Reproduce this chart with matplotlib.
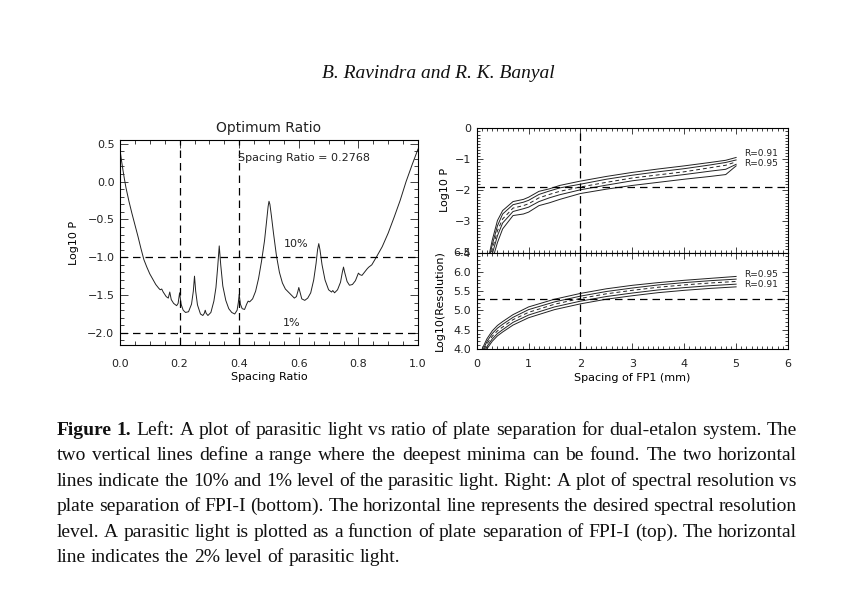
import matplotlib
matplotlib.use("Agg")
import matplotlib.pyplot as plt
from matplotlib.ticker import MultipleLocator

# left panel: parasitic light vs spacing ratio
ratio = [0.000, 0.005, 0.010, 0.015, 0.020, 0.030, 0.040, 0.050, 0.060, 0.070,
         0.080, 0.090, 0.100, 0.110, 0.120, 0.130, 0.135, 0.140, 0.145, 0.155,
         0.162, 0.167, 0.172, 0.180, 0.190, 0.195, 0.200, 0.205, 0.212, 0.220,
         0.230, 0.240, 0.246, 0.250, 0.254, 0.260, 0.270, 0.278, 0.283, 0.286,
         0.289, 0.295, 0.305, 0.315, 0.322, 0.328, 0.333, 0.338, 0.345, 0.355,
         0.365, 0.375, 0.385, 0.393, 0.397, 0.400, 0.404, 0.410, 0.418, 0.425,
         0.430, 0.435, 0.445, 0.455, 0.465, 0.475, 0.485, 0.492, 0.497, 0.500,
         0.503, 0.508, 0.515, 0.525, 0.535, 0.545, 0.555, 0.565, 0.575, 0.585,
         0.592, 0.597, 0.600, 0.604, 0.610, 0.620, 0.630, 0.640, 0.650, 0.658,
         0.663, 0.667, 0.671, 0.678, 0.688, 0.700, 0.710, 0.714, 0.720, 0.730,
         0.740, 0.746, 0.750, 0.754, 0.762, 0.770, 0.780, 0.790, 0.797, 0.800,
         0.805, 0.812, 0.820, 0.830, 0.835, 0.845, 0.860, 0.880, 0.900, 0.920,
         0.940, 0.960, 0.980, 1.000]
log_p = [0.42, 0.28, 0.15, 0.03, -0.08, -0.26, -0.42, -0.57, -0.72, -0.88,
         -1.03, -1.13, -1.22, -1.29, -1.36, -1.41, -1.43, -1.42, -1.46, -1.52,
         -1.54, -1.46, -1.56, -1.61, -1.64, -1.61, -1.47, -1.62, -1.70, -1.73,
         -1.72, -1.62, -1.45, -1.25, -1.45, -1.63, -1.75, -1.77, -1.74, -1.70,
         -1.74, -1.77, -1.73, -1.58, -1.40, -1.12, -0.85, -1.10, -1.38, -1.57,
         -1.68, -1.73, -1.75, -1.70, -1.60, -1.49, -1.62, -1.68, -1.69, -1.62,
         -1.58, -1.59, -1.55, -1.45, -1.28, -1.05, -0.78, -0.52, -0.33, -0.26,
         -0.30, -0.45, -0.68, -0.98, -1.20, -1.34, -1.42, -1.46, -1.50, -1.54,
         -1.52, -1.45, -1.40, -1.46, -1.55, -1.57, -1.54, -1.47, -1.30, -1.08,
         -0.90, -0.82, -0.90, -1.10, -1.30, -1.43, -1.46, -1.44, -1.47, -1.43,
         -1.33, -1.20, -1.13, -1.20, -1.32, -1.37, -1.36, -1.31, -1.24, -1.21,
         -1.23, -1.24, -1.20, -1.15, -1.13, -1.10, -1.00, -0.86, -0.68, -0.47,
         -0.25, 0.00, 0.22, 0.43]

# right top: parasitic light vs FP1 spacing
sep_top = [0.25, 0.3, 0.4, 0.5, 0.7, 0.9, 1.0, 1.2, 1.4, 1.6, 2.0, 2.5, 3.0, 3.5, 4.0, 4.5, 4.8, 5.0]
p1 = [-4.0, -3.6, -2.97, -2.65, -2.36, -2.29, -2.22, -2.03, -1.95, -1.84, -1.70, -1.55, -1.42, -1.31, -1.21, -1.10, -1.03, -0.94]
p2 = [-4.1, -3.75, -3.14, -2.76, -2.46, -2.38, -2.32, -2.13, -2.02, -1.92, -1.80, -1.64, -1.51, -1.40, -1.30, -1.18, -1.10, -1.02]
p3 = [-4.2, -3.9, -3.30, -2.92, -2.57, -2.49, -2.43, -2.24, -2.13, -2.03, -1.89, -1.74, -1.60, -1.50, -1.40, -1.27, -1.19, -1.08]
p4 = [-4.35, -4.05, -3.46, -3.05, -2.68, -2.59, -2.54, -2.36, -2.24, -2.14, -1.98, -1.83, -1.69, -1.59, -1.49, -1.38, -1.32, -1.16]
p5 = [-4.5, -4.25, -3.68, -3.24, -2.81, -2.76, -2.70, -2.49, -2.40, -2.29, -2.10, -1.96, -1.84, -1.74, -1.64, -1.55, -1.49, -1.21]

# right bottom: resolution vs FP1 spacing
sep_bot = [0.1, 0.15, 0.2, 0.3, 0.4, 0.5, 0.7, 1.0, 1.5, 2.0, 2.5, 3.0, 3.5, 4.0, 4.5, 5.0]
r1 = [3.98, 4.13, 4.27, 4.47, 4.61, 4.71, 4.89, 5.09, 5.29, 5.44, 5.56, 5.65, 5.72, 5.78, 5.83, 5.88]
r2 = [3.90, 4.06, 4.20, 4.40, 4.54, 4.64, 4.82, 5.02, 5.22, 5.37, 5.49, 5.58, 5.66, 5.72, 5.77, 5.81]
r3 = [3.82, 4.00, 4.14, 4.33, 4.47, 4.57, 4.76, 4.95, 5.16, 5.31, 5.43, 5.52, 5.60, 5.66, 5.71, 5.75]
r4 = [3.74, 3.93, 4.07, 4.26, 4.40, 4.50, 4.69, 4.88, 5.09, 5.24, 5.36, 5.45, 5.53, 5.59, 5.64, 5.68]
r5 = [3.66, 3.87, 4.01, 4.20, 4.34, 4.44, 4.62, 4.81, 5.02, 5.17, 5.29, 5.38, 5.46, 5.52, 5.57, 5.61]

header = "B. Ravindra and R. K. Banyal"
caption_lines = [
    "Figure 1. Left: A plot of parasitic light vs ratio of plate separation for dual-etalon system. The",
    "two vertical lines define a range where the deepest minima can be found.  The two horizontal",
    "lines indicate the 10% and 1% level of the parasitic light. Right: A plot of spectral resolution vs",
    "plate separation of FPI-I (bottom). The horizontal line represents the desired spectral resolution",
    "level. A parasitic light is plotted as a function of plate separation of FPI-I (top). The horizontal",
    "line indicates the 2% level of parasitic light.",
]

W, H = 842, 596
plt.rcParams['font.family'] = ['DejaVu Sans']
plt.rcParams['font.size'] = 8
plt.rcParams['axes.linewidth'] = 0.8
plt.rcParams['text.color'] = '#222222'
plt.rcParams['xtick.color'] = '#222222'
plt.rcParams['ytick.color'] = '#222222'

fig = plt.figure(figsize=(W / 100, H / 100), dpi=100)

LW = 0.7
DASH = (0, (6, 4))


def fig_rect(left, top, right, bottom):
    return [left / W, 1 - bottom / H, (right - left) / W, (bottom - top) / H]


def style_axis(ax, xminor, yminor, major=4.5, minor=2.2):
    ax.xaxis.set_minor_locator(MultipleLocator(xminor))
    ax.yaxis.set_minor_locator(MultipleLocator(yminor))
    ax.tick_params(which='both', direction='in', top=True, right=True, width=0.6)
    ax.tick_params(which='major', length=major, pad=4)
    ax.tick_params(which='minor', length=minor)


# ---- left panel
ax = fig.add_axes(fig_rect(120, 140, 418, 345))
ax.plot(ratio, log_p, color='#222222', lw=LW)
ax.axvline(0.2, color='k', lw=0.9, linestyle=DASH)
ax.axvline(0.4, color='k', lw=0.9, linestyle=DASH)
ax.axhline(-1.0, color='k', lw=0.9, linestyle=DASH)
ax.axhline(-2.0, color='k', lw=0.9, linestyle=DASH)
ax.set_xlim(0, 1)
ax.set_ylim(-2.16, 0.55)
ax.xaxis.set_major_locator(MultipleLocator(0.2))
ax.yaxis.set_major_locator(MultipleLocator(0.5))
style_axis(ax, 0.05, 0.1, major=6, minor=3)
ax.tick_params(axis='x', which='major', pad=10)
ax.set_xlabel('Spacing Ratio', labelpad=2)
ax.set_ylabel('Log10 P', labelpad=6)
ax.set_title('Optimum Ratio', fontsize=10, pad=6)
ax.text(0.397, 0.31, 'Spacing Ratio = 0.2768', ha='left', va='center')
ax.text(0.59, -0.82, '10%', ha='center', va='center')
ax.text(0.577, -1.87, '1%', ha='center', va='center')

# ---- right top panel
ax1 = fig.add_axes(fig_rect(476.7, 128.3, 788, 252.5))
for ys, ls in zip([p1, p2, p3, p4, p5], ['-', '-', (0, (4, 3)), '-', '-']):
    ax1.plot(sep_top, ys, color='#222222', lw=LW, linestyle=ls)
ax1.axvline(2.0, color='k', lw=0.9, linestyle=DASH)
ax1.axhline(-1.9, color='k', lw=0.9, linestyle=DASH)
ax1.set_xlim(0, 6)
ax1.set_ylim(-4, 0)
ax1.xaxis.set_major_locator(MultipleLocator(1))
ax1.yaxis.set_major_locator(MultipleLocator(1))
style_axis(ax1, 0.1, 0.1)
ax1.tick_params(labelbottom=False)
ax1.set_ylabel('Log10 P', labelpad=3)
ax1.text(5.15, -0.8, 'R=0.91', fontsize=6.5, ha='left', va='center')
ax1.text(5.15, -1.12, 'R=0.95', fontsize=6.5, ha='left', va='center')

# ---- right bottom panel
ax2 = fig.add_axes(fig_rect(476.7, 252.5, 788, 349))
for ys, ls in zip([r1, r2, r3, r4, r5], ['-', '-', (0, (4, 3)), '-', '-']):
    ax2.plot(sep_bot, ys, color='#222222', lw=LW, linestyle=ls)
ax2.axvline(2.0, color='k', lw=0.9, linestyle=DASH)
ax2.axhline(5.3, color='k', lw=0.9, linestyle=DASH)
ax2.set_xlim(0, 6)
ax2.set_ylim(4.0, 6.5)
ax2.xaxis.set_major_locator(MultipleLocator(1))
ax2.yaxis.set_major_locator(MultipleLocator(0.5))
style_axis(ax2, 0.1, 0.1)
ax2.tick_params(axis='x', which='major', pad=7)
ax2.set_xlabel('Spacing of FP1 (mm)', labelpad=3)
ax2.set_ylabel('Log10(Resolution)', labelpad=6)
ax2.text(5.15, 5.94, 'R=0.95', fontsize=6.5, ha='left', va='center')
ax2.text(5.15, 5.68, 'R=0.91', fontsize=6.5, ha='left', va='center')

# ---- header and justified caption
fig.text(438 / W, 1 - 74 / H, header, ha='center', va='center',
         family='Liberation Serif', style='italic', fontsize=14, color='#111111')

renderer = fig.canvas.get_renderer()
x_left, x_right = 56.7, 797.0
base0, step = 435.0, 25.4
for i, line in enumerate(caption_lines):
    words = line.split()
    texts = []
    widths = []
    for j, w in enumerate(words):
        bold = (i == 0 and j < 2)
        t = fig.text(0, 1 - (base0 + i * step) / H, w, ha='left', va='baseline',
                     family='Liberation Serif', fontsize=14, color='#111111',
                     weight='bold' if bold else 'normal')
        texts.append(t)
        widths.append(t.get_window_extent(renderer).width)
    if i < len(caption_lines) - 1:
        gap = (x_right - x_left - sum(widths)) / (len(words) - 1)
    else:
        gap = 4.8
    x = x_left
    for t, wd in zip(texts, widths):
        t.set_x(x / W)
        x += wd + gap

fig.savefig('out.png', dpi=100)
